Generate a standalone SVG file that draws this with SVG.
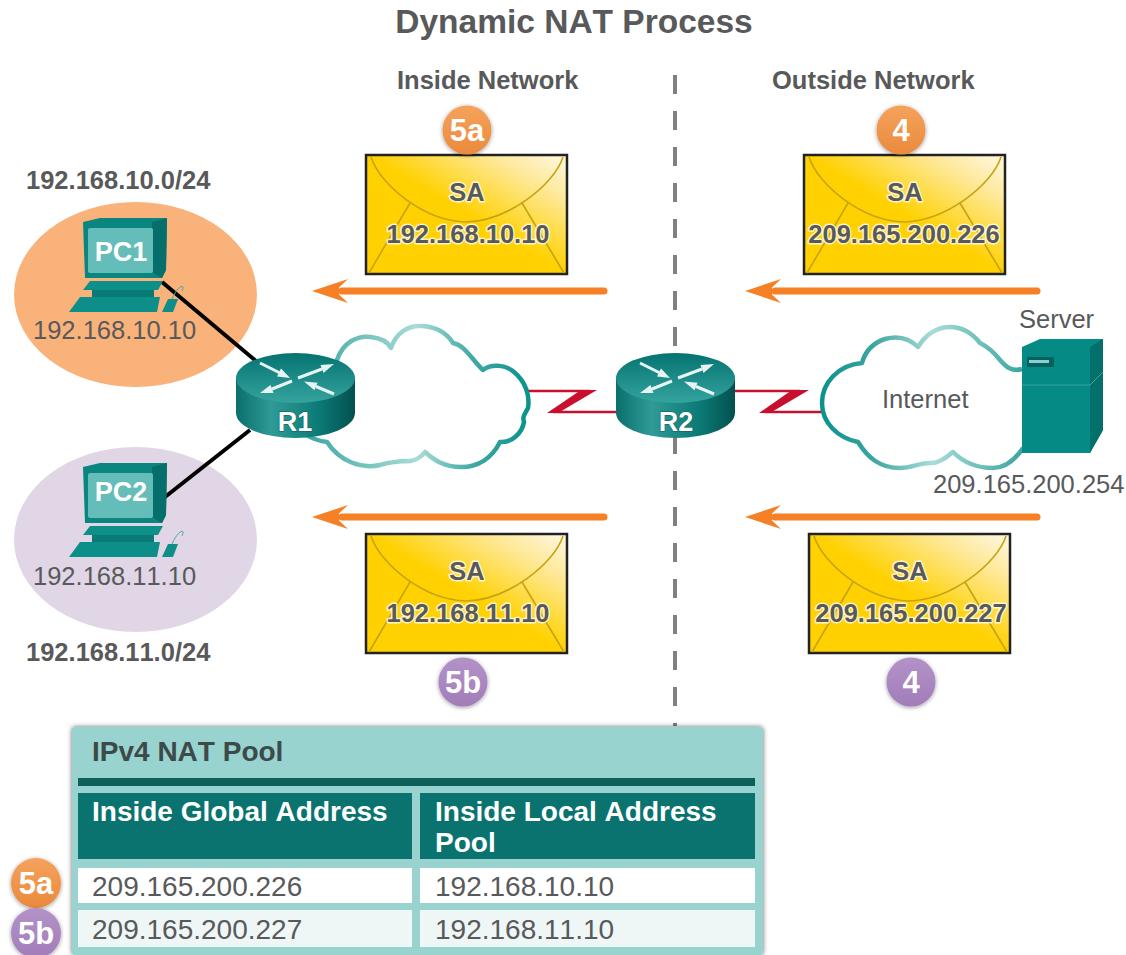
<svg xmlns="http://www.w3.org/2000/svg" xmlns:xlink="http://www.w3.org/1999/xlink" width="1126" height="955" viewBox="0 0 1126 955">
<style>
text{font-family:"Liberation Sans",Arial,sans-serif;fill:#58595b;font-size:25.5px;font-kerning:none}
.b{font-weight:bold}
.m{text-anchor:middle}
.halo{paint-order:stroke;stroke:#fff;stroke-width:3px;stroke-opacity:.75;stroke-linejoin:round;font-weight:bold}
.badge{fill:#fff;font-weight:bold;font-size:31px;text-anchor:middle}
.rl{fill:#fff;font-weight:bold;font-size:27px;text-anchor:middle;paint-order:stroke;stroke:#0a5f5c;stroke-width:1px}
.pl{fill:#fff;font-weight:bold;font-size:27px;text-anchor:middle}
.cloud{fill:#fff;stroke-width:4.5;stroke-linejoin:round}
.link{stroke:#000;stroke-width:4;fill:none}
.wan{stroke:#c8102e;stroke-width:2.5;fill:none}
.zig{fill:#c8102e}
.arrow{stroke:#f58025;stroke-width:7;stroke-linecap:round;fill:none}
.head{fill:#f58025}
.env{stroke:#222;stroke-width:2.5;fill:url(#envG)}
.flap{stroke:#c7a310;stroke-width:1.6;fill:none}
.o{fill:url(#orgG)}
.p{fill:url(#purG)}
.th{fill:#fff;font-weight:bold;font-size:28px}
.td{font-size:28px}
.ra{stroke:#e6f4f3;stroke-width:3;fill:none}
.rh{fill:#e6f4f3}
</style>
<defs>
<linearGradient id="envG" x1="0" y1="1" x2="1" y2="0"><stop offset="0" stop-color="#ffd100"/><stop offset=".5" stop-color="#ffd100"/><stop offset=".8" stop-color="#fee896"/><stop offset="1" stop-color="#fff8e6"/></linearGradient>
<linearGradient id="orgG" x1="0" y1="0" x2="0" y2="1"><stop offset="0" stop-color="#f5a25c"/><stop offset="1" stop-color="#ea8a3c"/></linearGradient>
<linearGradient id="purG" x1="0" y1="0" x2="0" y2="1"><stop offset="0" stop-color="#b392c8"/><stop offset="1" stop-color="#a27db9"/></linearGradient>
<linearGradient id="rBody" x1="0" y1="0" x2="1" y2="0"><stop offset="0" stop-color="#0b6f6c"/><stop offset=".3" stop-color="#2f9a96"/><stop offset=".7" stop-color="#0b7a76"/><stop offset="1" stop-color="#04504e"/></linearGradient>
<linearGradient id="rTop" x1="0" y1="0" x2="0" y2="1"><stop offset="0" stop-color="#057471"/><stop offset="1" stop-color="#35a39e"/></linearGradient>
<linearGradient id="cl1" x1="0" y1="0" x2="1" y2="0"><stop offset="0" stop-color="#3aa5a0"/><stop offset=".5" stop-color="#a9dcd8"/><stop offset=".75" stop-color="#40a9a4"/><stop offset="1" stop-color="#0a928d"/></linearGradient>
<linearGradient id="cl2" x1="0" y1="0" x2="1" y2="0"><stop offset="0" stop-color="#0a928d"/><stop offset=".25" stop-color="#3aa5a0"/><stop offset=".55" stop-color="#a9dcd8"/><stop offset="1" stop-color="#3aa5a0"/></linearGradient>
<filter id="sh" x="-20%" y="-20%" width="140%" height="140%"><feDropShadow dx="0" dy="1" stdDeviation="2" flood-color="#000" flood-opacity=".4"/></filter>
<filter id="sh2" x="-5%" y="-5%" width="110%" height="110%"><feDropShadow dx="0" dy="0" stdDeviation="2.500" flood-color="#000" flood-opacity=".6"/></filter>
<g id="router">
<path d="M0,25V60A59.5,25 0 0 0 119,60V25Z" fill="url(#rBody)"/>
<ellipse cx="59.5" cy="25" rx="59.5" ry="25" fill="url(#rTop)"/>
<path class="ra" d="M24,10L45,20.500M62,25L86,16M56,28L36,36M98,41L80,33.500"/>
<path class="rh" d="M54,25L41,23.500L45,15.500ZM98,11L84.500,12L87.500,20ZM24,40L34.500,32L37.500,40ZM68,28.500L81.500,29.800L78.500,37.200Z"/>
</g>
<g id="pc">
<path d="M83,222L100,218H167L166,270L162,278H85Z" fill="#0a8580"/>
<path d="M152,222L167,218L166,270L162,278L152,272Z" fill="#066f6b"/>
<rect x="88" y="228" width="65" height="45" rx="2" fill="#65bdb9"/>
<path d="M83,290L90,281H163L158,290Z" fill="#0d8f8a"/>
<rect x="92" y="290" width="62" height="7" fill="#0a7a76"/>
<path d="M69,312L80,297H160L157,312Z" fill="#0e8e89"/>
<path d="M162,312L168,299H178L173,312Z" fill="#0e8e89"/>
<path d="M172,299C178,285 186,283 182,291" fill="none" stroke="#4aa8a4" stroke-width="1"/>
</g>
<g id="envelope">
<rect width="201" height="119" class="env"/>
<path class="flap" d="M5,2C14,30 58,66 100,67C142,66 188,30 197,2M44,48L3,118M156,48L198,118"/>
</g>
<path id="ah" class="head" d="M0,0L36,-12L27,-3.5V3.5L36,12Z"/>
</defs>

<text class="b m" x="574" y="33" style="font-size:33.500px" id="title">Dynamic NAT Process</text>
<text class="b" x="397" y="89">Inside Network</text>
<text class="b" x="772" y="89">Outside Network</text>

<g id="boundary"><line x1="675" y1="75" x2="675" y2="726" stroke="#808080" stroke-width="4" stroke-dasharray="19 17"/></g>

<g id="net1"><ellipse cx="135.500" cy="294.500" rx="121.500" ry="92.500" fill="#fab27b"/></g>
<g id="net2"><ellipse cx="135.500" cy="539.500" rx="121.500" ry="92.500" fill="#e0d6e6"/></g>

<g id="connectors">
<line class="link" x1="162" y1="282" x2="256" y2="361"/>
<line class="link" x1="165" y1="497" x2="250" y2="430"/>
<path class="wan" d="M525,391H590M553,412H620"/>
<path class="zig" d="M581,390H597L558,413H547Z"/>
<path class="wan" d="M732,391H800M765,412H826"/>
<path class="zig" d="M792,390H809L770,413H759Z"/>
</g>

<g id="cloud1"><path class="cloud" stroke="url(#cl1)" d="M337,360C343,342 358,335 371,337C381,338 388,342 391,348C396,333 408,325 422,326C438,327 448,335 453,343C465,345 472,360 483,370C490,364 505,364 514,372C526,382 530,396 528,408C525,414 522,416 524,422C522,433 512,443 500,442C492,458 478,467 461,467C444,467 434,460 425,452C419,460 410,462 403,461C396,462 388,462 380,465C362,469 340,462 327,442C318,441 311,438 305,434C318,420 330,380 337,360Z"/></g>
<g id="cloud2"><path class="cloud" stroke="url(#cl2)" d="M1022,369C1012,372 1006,367 1000,360C993,351 988,347 980,343C972,333 962,327 950,327C936,327 925,336 918,347C908,337 896,336 885,339C873,343 865,352 862,363C838,365 822,383 822,403C822,423 838,438 858,442C868,458 880,468 900,468C912,468 919,463 930,463C938,464 946,458 953,452C964,463 978,468 993,468C1005,468 1015,460 1023,448"/><text x="882" y="408">Internet</text></g>

<g id="R1"><use xlink:href="#router" x="236" y="353"/><text class="rl" x="295" y="431">R1</text></g>
<g id="R2"><use xlink:href="#router" x="616" y="353"/><text class="rl" x="676" y="431">R2</text></g>

<g id="PC1"><use xlink:href="#pc"/><text class="pl" x="121" y="261">PC1</text><text x="33" y="339">192.168.10.10</text><text class="b" x="26" y="189">192.168.10.0/24</text></g>
<g id="PC2"><use xlink:href="#pc" y="245"/><text class="pl" x="121" y="501">PC2</text><text x="33" y="585">192.168.11.10</text><text class="b" x="26" y="661">192.168.11.0/24</text></g>

<g id="Server">
<text x="1019" y="328">Server</text>
<path d="M1022,347L1040,339H1103V430L1090,453H1022Z" fill="#068a85"/>
<path d="M1090,347L1103,339V430L1090,453Z" fill="#056f6b"/>
<path d="M1022,385H1090L1103,372" fill="none" stroke="#3aa5a0" stroke-width="1"/>
<rect x="1027" y="357" width="27" height="10" fill="#05625f"/><rect x="1029" y="360" width="20" height="3" fill="#8fd0cc"/>
<text x="933" y="493">209.165.200.254</text>
</g>

<g id="arrows">
<line class="arrow" x1="342" y1="291" x2="604" y2="291"/><use xlink:href="#ah" x="312" y="291"/>
<line class="arrow" x1="775" y1="291" x2="1037" y2="291"/><use xlink:href="#ah" x="745" y="291"/>
<line class="arrow" x1="342" y1="517" x2="604" y2="517"/><use xlink:href="#ah" x="312" y="517"/>
<line class="arrow" x1="775" y1="517" x2="1037" y2="517"/><use xlink:href="#ah" x="745" y="517"/>
</g>

<g id="env1"><use xlink:href="#envelope" x="366" y="155"/><text class="halo m" x="467" y="201">SA</text><text class="halo m" x="468" y="243">192.168.10.10</text></g>
<g id="env2"><use xlink:href="#envelope" x="804" y="155"/><text class="halo m" x="905" y="201">SA</text><text class="halo m" x="904" y="243">209.165.200.226</text></g>
<g id="env3"><use xlink:href="#envelope" x="366" y="534"/><text class="halo m" x="467" y="580">SA</text><text class="halo m" x="468" y="622">192.168.11.10</text></g>
<g id="env4"><use xlink:href="#envelope" x="809" y="534"/><text class="halo m" x="910" y="580">SA</text><text class="halo m" x="911" y="622">209.165.200.227</text></g>

<g id="badge5a"><circle class="o" cx="467" cy="130" r="24.500" filter="url(#sh)"/><text class="badge" x="467" y="141">5a</text></g>
<g id="badge4a"><circle class="o" cx="901" cy="130" r="24.500" filter="url(#sh)"/><text class="badge" x="901" y="141">4</text></g>
<g id="badge5b"><circle class="p" cx="463" cy="682" r="24.500" filter="url(#sh)"/><text class="badge" x="463" y="693">5b</text></g>
<g id="badge4b"><circle class="p" cx="911" cy="682" r="24.500" filter="url(#sh)"/><text class="badge" x="911" y="693">4</text></g>

<g id="pool">
<rect x="72" y="727" width="691" height="228" rx="3" fill="#98d3d0" filter="url(#sh2)"/>
<text class="b" x="92" y="761" style="font-size:28px;fill:#3d4a4a">IPv4 NAT Pool</text>
<rect x="78" y="778" width="677" height="8" fill="#0d5f5b"/>
<rect x="78" y="793" width="334" height="66" fill="#0a7370"/>
<rect x="420" y="793" width="335" height="66" fill="#0a7370"/>
<text class="th" x="92" y="821">Inside Global Address</text>
<text class="th" x="435" y="821">Inside Local Address</text>
<text class="th" x="435" y="852">Pool</text>
<rect x="78" y="868" width="334" height="35" fill="#fff"/>
<rect x="420" y="868" width="335" height="35" fill="#fff"/>
<rect x="78" y="910" width="334" height="37" fill="#eff7f6"/>
<rect x="420" y="910" width="335" height="37" fill="#eff7f6"/>
<text class="td" x="92" y="896">209.165.200.226</text>
<text class="td" x="435" y="896">192.168.10.10</text>
<text class="td" x="92" y="939">209.165.200.227</text>
<text class="td" x="435" y="939">192.168.11.10</text>
</g>
<g id="badge5aT"><circle class="o" cx="36" cy="883" r="25" filter="url(#sh)"/><text class="badge" x="36" y="894">5a</text></g>
<g id="badge5bT"><circle class="p" cx="36" cy="933" r="25" filter="url(#sh)"/><text class="badge" x="36" y="944">5b</text></g>
</svg>
